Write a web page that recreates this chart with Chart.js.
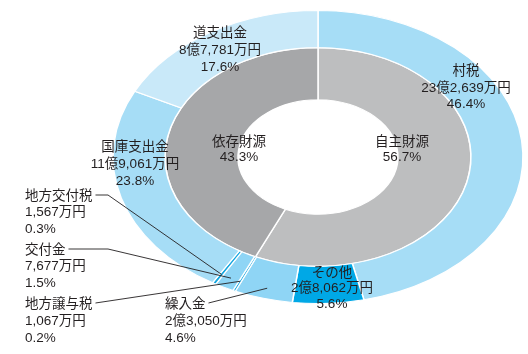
<!DOCTYPE html>
<html><head><meta charset="utf-8">
<script src="https://cdn.jsdelivr.net/npm/chart.js@4/dist/chart.umd.min.js"></script>
<style>html,body{margin:0;padding:0;background:#fff;overflow:hidden}canvas{display:block}</style>
</head><body>
<canvas id="c" width="528" height="354"></canvas>
<script>
// ---- data ----
const outerLabels = ['村税','その他','繰入金','地方譲与税','交付金','地方交付税','国庫支出金','道支出金'];
const outerAmounts = ['23億2,639万円','2億8,062万円','2億3,050万円','1,067万円','7,677万円','1,567万円','11億9,061万円','8億7,781万円'];
const outerPct = [46.4, 5.6, 4.6, 0.2, 1.5, 0.3, 23.8, 17.6];
const innerLabels = ['自主財源','依存財源'];
const innerPct = [56.7, 43.3];

// ---- styles / layout ----
const outerColors = ['#a6ddf6','#00a8e6','#8fd5f5','#12a6e0','#8fd5f5','#12a6e0','#a6ddf6','#c9e9f9'];
const innerColors = ['#bdbebf','#a6a7a9'];
const CX = 318, CY = 157, K = 0.715;
const TXT = '#231f20';
const FONT = '13.5px "Liberation Sans", "Noto Sans CJK JP", sans-serif';
// label anchor positions: [x, y of first line, align, lineHeight]
const outerPos = [
  [466, 71, 'center', 16.8],
  [332, 273, 'center', 15.5],
  [165, 304, 'left', 17.2],
  [25, 304, 'left', 17.2],
  [25, 250, 'left', 16.5],
  [25, 196, 'left', 16.5],
  [135, 147, 'center', 17],
  [220, 33, 'center', 17]
];
const innerPos = [[402, 142], [239, 142]];
// leader lines: outer index -> elbow x (null = straight)
const leaders = {5: 108, 4: 108, 3: null, 2: null};

const squash = {
  id: 'squash',
  beforeDatasetsDraw(chart) {
    const ctx = chart.ctx;
    ctx.save();
    ctx.translate(CX, CY); ctx.scale(1, K); ctx.translate(-CX, -CY);
  },
  afterDatasetsDraw(chart) { chart.ctx.restore(); }
};

function arcPoint(arc, frac) {
  const p = arc.getProps(['x','y','startAngle','endAngle','innerRadius','outerRadius'], true);
  const a = (p.startAngle + p.endAngle) / 2;
  const r = p.innerRadius + frac * (p.outerRadius - p.innerRadius);
  const x = p.x + Math.cos(a) * r;
  const y = p.y + Math.sin(a) * r;
  return [x, CY + (y - CY) * K];
}

const labelsPlugin = {
  id: 'labelsPlugin',
  afterDraw(chart) {
    const ctx = chart.ctx;
    ctx.save();
    ctx.font = FONT;
    ctx.fillStyle = TXT;
    ctx.textBaseline = 'middle';
    outerLabels.forEach((name, i) => {
      const [x, y, align, lh] = outerPos[i];
      ctx.textAlign = align;
      const lines = [name, outerAmounts[i], outerPct[i].toFixed(1) + '%'];
      lines.forEach((t, j) => ctx.fillText(t, x, y + j * lh));
    });
    innerLabels.forEach((name, i) => {
      const [x, y] = innerPos[i];
      ctx.textAlign = 'center';
      ctx.fillText(name, x, y);
      ctx.fillText(innerPct[i].toFixed(1) + '%', x, y + 15.5);
    });
    // leader lines
    const meta = chart.getDatasetMeta(0);
    ctx.strokeStyle = TXT;
    ctx.lineWidth = 0.9;
    Object.keys(leaders).forEach(k => {
      const i = +k;
      const [x, y] = outerPos[i];
      const w = ctx.measureText(outerLabels[i]).width;
      const sx = x + w + 3, sy = y - 1;
      const [ex, ey] = arcPoint(meta.data[i], 0.72);
      ctx.beginPath();
      ctx.moveTo(sx, sy);
      if (leaders[k] !== null) ctx.lineTo(leaders[k], sy);
      ctx.lineTo(ex, ey);
      ctx.stroke();
    });
    ctx.restore();
  }
};

new Chart(document.getElementById('c'), {
  type: 'doughnut',
  data: {
    labels: outerLabels,
    datasets: [
      { data: outerPct, backgroundColor: outerColors, borderColor: '#ffffff', borderWidth: 1.5, weight: 52, clip: false },
      { data: innerPct, labels: innerLabels, backgroundColor: innerColors, borderColor: '#ffffff', borderWidth: 1.5, weight: 73, clip: false }
    ]
  },
  options: {
    responsive: false,
    devicePixelRatio: 1,
    animation: false,
    radius: 205,
    cutout: '39%',
    layout: { padding: { left: 108, bottom: 40 } },
    plugins: { legend: { display: false }, tooltip: { enabled: false } },
    events: []
  },
  plugins: [squash, labelsPlugin]
});
</script>
</body></html>
